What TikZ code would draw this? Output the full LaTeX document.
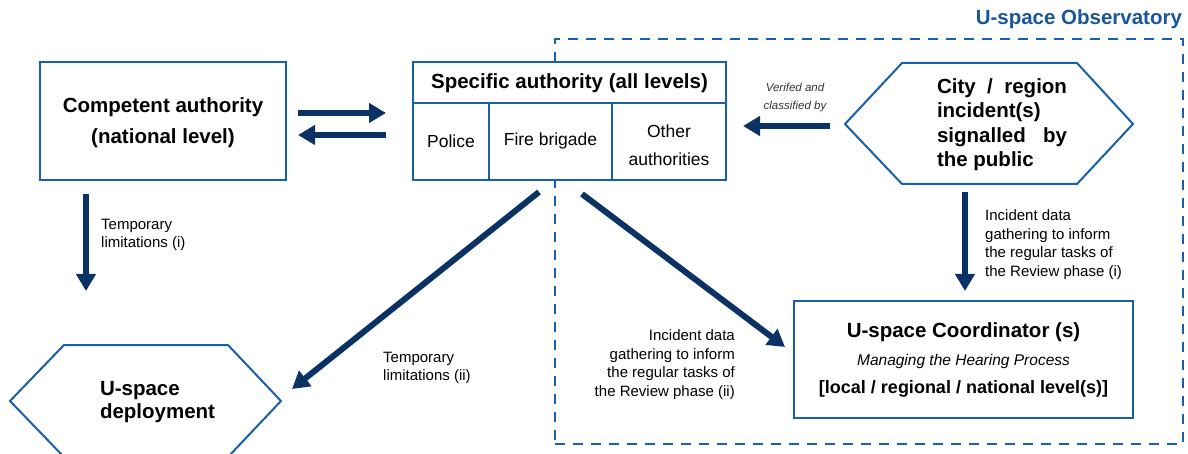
\documentclass[tikz,border=0pt]{standalone}
\usepackage{fontspec}
\setmainfont{Liberation Sans}
\usetikzlibrary{arrows.meta}
\definecolor{boxblue}{RGB}{22,96,172}
\definecolor{navy}{RGB}{10,50,100}
\definecolor{titleblue}{RGB}{25,85,155}
\begin{document}
\begin{tikzpicture}[x=1pt,y=-1pt,
  box/.style={draw=boxblue, line width=2.2pt, fill=white, inner sep=0pt},
  hexline/.style={draw=boxblue, line width=2pt, fill=white, line join=miter},
  txt/.style={inner sep=0pt, outer sep=0pt},
  boldbig/.style={font=\fontsize{20.5}{24.5}\selectfont\bfseries},
  cell/.style={inner sep=0pt, font=\fontsize{17.5}{28}\selectfont},
  lab/.style={inner sep=0pt, font=\fontsize{15}{18.5}\selectfont},
  arr/.style={draw=navy, line width=6pt, -{Triangle[length=17pt,width=19pt]}}
  ]
\useasboundingbox (0,0) rectangle (1188,454);

% observatory frame
\node[draw=boxblue, line width=2.6pt, dash pattern=on 10pt off 8pt,
      minimum width=628pt, minimum height=405pt, inner sep=0pt] (obs) at (869,241.5) {};
\node[txt, anchor=east, text=titleblue, font=\fontsize{20.5}{24}\selectfont\bfseries]
      (obstitle) at (1182,19) {U-space Observatory};

% competent authority
\node[box, minimum width=246pt, minimum height=118pt] (ca) at (163,121) {};
\node[txt, align=center, font=\fontsize{20.5}{31}\selectfont\bfseries] (catext) at (163,123)
      {Competent authority\\(national level)};

% specific authority
\node[box, minimum width=313pt, minimum height=118pt] (sa) at (569.5,121) {};
\draw[boxblue, line width=2.2pt] (413,103) -- (726,103);
\draw[boxblue, line width=2.2pt] (489,103) -- (489,180);
\draw[boxblue, line width=2.2pt] (612,103) -- (612,180);
\node[txt, boldbig] (satitle) at (569.5,83) {Specific authority (all levels)};
\node[cell] (police) at (451,141) {Police};
\node[cell] (fire) at (550.5,141) {Fire brigade};
\node[cell, align=center] (other) at (669,145) {Other\\authorities};

% city hexagon
\draw[hexline] (845,124) -- (902,63) -- (1077,63) -- (1133,124) -- (1077,184) -- (902,184) -- cycle;
\node[txt, anchor=west, align=left, font=\fontsize{20.5}{24.5}\selectfont\bfseries] (citytext) at (937,124.5)
      {\makebox[130pt][s]{City / region}\\incident(s)\\\makebox[130pt][s]{signalled by}\\the public};

% u-space deployment hexagon
\draw[hexline] (10,401) -- (64,345) -- (228,345) -- (281,401) -- (228,457) -- (64,457) -- cycle;
\node[txt, anchor=west, align=left, font=\fontsize{20.5}{23}\selectfont\bfseries] (deptext) at (100,402.5)
      {U-space\\deployment};

% coordinator
\node[box, minimum width=339pt, minimum height=117pt] (coord) at (963.5,359.5) {};
\node[txt, boldbig] (cu1) at (963.5,332) {U-space Coordinator (s)};
\node[txt, font=\fontsize{15.5}{18}\selectfont\itshape] (cu2) at (963.5,361) {Managing the Hearing Process};
\node[txt, font=\fontsize{18}{22}\selectfont\bfseries] (cu3) at (963.5,389) {[local / regional / national level(s)]};

% arrow end points
\coordinate (a1s) at (298,113); \coordinate (a1e) at (386,113);
\coordinate (a2s) at (386,135); \coordinate (a2e) at (298,135);
\coordinate (a3s) at (86,194);  \coordinate (a3e) at (86,291);
\coordinate (a4s) at (539,192); \coordinate (a4e) at (292,389);
\coordinate (a5s) at (582,194); \coordinate (a5e) at (785,347);
\coordinate (a6s) at (830,126); \coordinate (a6e) at (743,126);
\coordinate (a7s) at (965,192); \coordinate (a7e) at (965,291);

\draw[arr] (a1s) -- (a1e);
\draw[arr] (a2s) -- (a2e);
\draw[arr] (a3s) -- (a3e);
\draw[arr] (a4s) -- (a4e);
\draw[arr] (a5s) -- (a5e);
\draw[arr] (a6s) -- (a6e);
\draw[arr] (a7s) -- (a7e);

% labels
\node[lab, anchor=west, align=left] (l3) at (101,235) {Temporary\\limitations (i)};
\node[lab, anchor=west, align=left] (l4) at (383,368) {Temporary\\limitations (ii)};
\node[lab, anchor=east, align=right] (l5) at (735,364.5)
      {Incident data\\gathering to inform\\the regular tasks of\\the Review phase (ii)};
\node[lab, anchor=west, align=left] (l7) at (985,244.5)
      {Incident data\\gathering to inform\\the regular tasks of\\the Review phase (i)};
\node[txt, align=center, font=\fontsize{11.5}{18}\selectfont\itshape, text=black!80] (l6) at (795,98)
      {Verifed and\\classified by};
\end{tikzpicture}
\end{document}
